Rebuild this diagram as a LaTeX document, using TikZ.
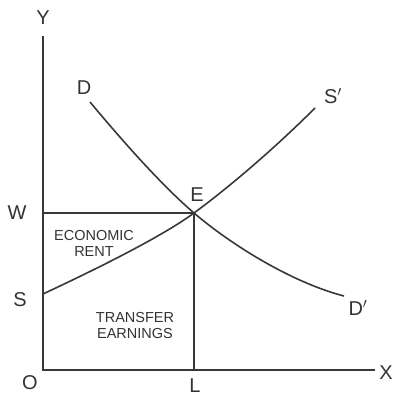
\documentclass[tikz,border=0pt]{standalone}
\usepackage{fontspec}
\setmainfont{Liberation Sans}
\begin{document}
\begin{tikzpicture}[x=1pt,y=-1pt,
  ln/.style={line width=1.6pt,draw=black!78},
  lbl/.style={text=black!80,font=\fontsize{20}{22}\selectfont,inner sep=0pt},
  small/.style={text=black!80,font=\fontsize{14.5}{16}\selectfont,align=center,inner sep=0pt}]
\useasboundingbox (0,0) rectangle (392,396);
\coordinate (O) at (43,370);
\coordinate (Ytop) at (43,36);
\coordinate (Xend) at (375,370);
\coordinate (E) at (194,213);
\coordinate (Wp) at (43,213);
\coordinate (Lp) at (194,370);
\coordinate (Sp) at (43,294);
\coordinate (Dstart) at (90,102);
\coordinate (Dend) at (344,296);
\coordinate (Send) at (315,108);
% axes
\draw[ln] (Ytop) -- (O) -- (Xend);
% W and L lines
\draw[ln] (Wp) -- (E) -- (Lp);
% demand curve
\draw[ln] (Dstart) .. controls (130,150) and (166,189) .. (E)
                   .. controls (229,243) and (290,282) .. (Dend);
% supply curve
\draw[ln] (Sp) .. controls (90,272) and (160,238) .. (E)
              .. controls (230,186.5) and (275,148) .. (Send);
% labels
\node[lbl] (ly) at (43,18) {Y};
\node[lbl] (lx) at (386,373) {X};
\node[lbl] (lo) at (30,383) {O};
\node[lbl] (ll) at (195,386) {L};
\node[lbl] (lw) at (17,213) {W};
\node[lbl] (ls) at (20,300) {S};
\node[lbl] (le) at (197,195) {E};
\node[lbl] (ld) at (84,88) {D};
\node[lbl] (lsp) at (333,96) {S$^{\prime}$};
\node[lbl] (ldp) at (358,308) {D$^{\prime}$};
\node[small] (rent) at (94,243) {ECONOMIC\\RENT};
\node[small] (te) at (135,326) {TRANSFER\\EARNINGS};
\end{tikzpicture}
\end{document}
